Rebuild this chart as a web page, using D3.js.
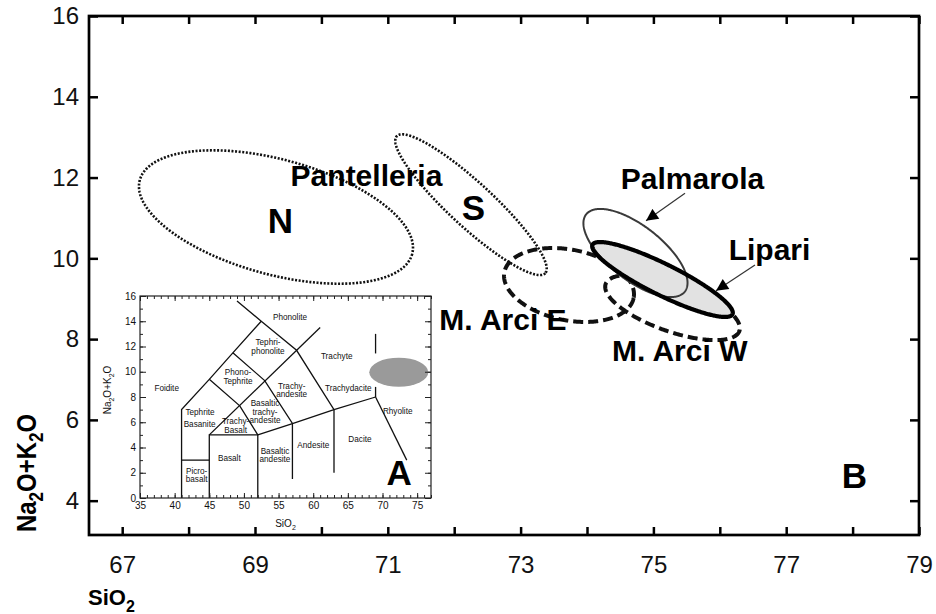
<!DOCTYPE html>
<html><head><meta charset="utf-8">
<script src="https://cdn.jsdelivr.net/npm/d3@7"></script>
<style>
body{margin:0;background:#fff}
text{font-family:"Liberation Sans",Arial,Helvetica,sans-serif}
</style>
</head><body>
<svg id="c" width="936" height="614"></svg>
<script>
// ---------- main diagram data ----------
const xTicks = [67,68,69,70,71,72,73,74,75,76,77,78,79];
const xTickLabels = [67,69,71,73,75,77,79];
const yTicks = [4,6,8,10,12,14,16];

// ellipses: centre (SiO2, Na2O+K2O) and two conjugate half-axes in data units
const fieldNames   = ["Pantelleria N","Pantelleria S","M. Arci E","M. Arci W","Lipari","Palmarola"];
const fieldCenters = [[69.316,11.023],[72.253,11.328],[73.729,9.340],[75.288,8.783],[75.137,9.476],[74.730,10.132]];
const fieldAxisU   = [[2.051,-0.916],[1.118,-1.696],[0.973,-0.322],[1.007,-0.582],[1.054,-0.861],[0.743,-0.956]];
const fieldAxisV   = [[-0.227,-1.374],[-0.225,-0.400],[-0.105,-0.857],[-0.120,-0.560],[-0.104,-0.344],[-0.250,-0.527]];
const fieldStyle   = ["dotted","dotted","dashed","dashed","bold","thin"];

const mainLabels   = ["Pantelleria","N","S","M. Arci E","M. Arci W","Palmarola","Lipari","B"];
const mainLabelPos = [[70.679,11.791],[69.381,10.627],[72.288,10.949],[72.735,8.226],[75.396,7.466],[75.589,11.709],[76.749,9.959],[78.026,4.307]];
const mainLabelBig = [false,true,true,false,false,false,false,true];

const arrowFrom = [[75.476,11.610],[76.530,9.835]];
const arrowTo   = [[74.889,10.932],[75.943,9.199]];

// ---------- inset TAS data ----------
const insetXTicks = d3.range(35,78,1);
const insetXLabels = [35,40,45,50,55,60,65,70,75];
const insetYTicks = d3.range(0,17,1);
const insetYLabels = [0,2,4,6,8,10,12,14,16];
const tasLines = [
  [[41,0],[41,7],[45,9.4],[48.4,11.5],[52.5,14]],
  [[49,15.6],[52.5,14],[57.6,11.7],[63,7],[63,2]],
  [[41,3],[45,3]],
  [[45,0],[45,5],[52,5],[52,0]],
  [[52,5],[57,5.9],[63,7],[69,8]],
  [[57,1.5],[57,5.9],[53,9.3],[48.4,11.5]],
  [[45,5],[61,13.5]],
  [[45,9.4],[49.4,7.3],[52,5]],
  [[69,8],[69,8.8]],
  [[69,8],[73.5,3]],
  [[69,11.45],[69,13]]
];
const tasNames = ["Phonolite","Tephri-\nphonolite","Trachyte","Phono-\nTephrite","Foidite","Trachy-\nandesite","Trachydacite",
  "Basaltic\ntrachy-\nandesite","Tephrite","Basanite","Trachy-\nBasalt","Rhyolite","Dacite","Andesite","Basaltic\nandesite","Basalt","Picro-\nbasalt"];
const tasNamePos = [[56.65,14.34],[53.47,11.98],[63.39,11.25],[49.14,9.61],[38.85,8.71],[56.89,8.55],[65.06,8.71],
  [53.04,6.84],[43.66,6.8],[43.6,5.85],[48.8,5.72],[72.19,6.91],[66.75,4.65],[60.01,4.2],[54.48,3.41],[47.89,3.14],[43.18,1.82]];
const studyField = {cx:72.35, cy:9.96, rx:4.26, ry:1.15};

// ---------- drawing ----------
const svg = d3.select("#c");
svg.append("rect").attr("width",936).attr("height",614).attr("fill","#fff");

const x = d3.scaleLinear().domain([66.5,79]).range([89,919]);
const y = d3.scaleLinear().domain([3.15,16]).range([535,16]);

function ellipsePath(c,u,v,sx,sy){
  const pts = d3.range(0,360,1).map(t=>{
    const r=t*Math.PI/180;
    return [sx(c[0]+Math.cos(r)*u[0]+Math.sin(r)*v[0]), sy(c[1]+Math.cos(r)*u[1]+Math.sin(r)*v[1])];
  });
  return d3.line().curve(d3.curveLinearClosed)(pts);
}

const gF = svg.append("g");
[0,1,2,3].forEach(i=>{
  const p = gF.append("path").attr("d",ellipsePath(fieldCenters[i],fieldAxisU[i],fieldAxisV[i],x,y)).attr("fill","none").attr("stroke","#111");
  if(fieldStyle[i]==="dotted") p.attr("stroke-width",2.6).attr("stroke-dasharray","2,1.6");
  else p.attr("stroke-width",4).attr("stroke-dasharray","10,5");
});
// Lipari fill, Palmarola outline, Lipari outline
gF.append("path").attr("d",ellipsePath(fieldCenters[4],fieldAxisU[4],fieldAxisV[4],x,y)).attr("fill","#e2e2e2").attr("stroke","none");
gF.append("path").attr("d",ellipsePath(fieldCenters[5],fieldAxisU[5],fieldAxisV[5],x,y)).attr("fill","none").attr("stroke","#3a3a3a").attr("stroke-width",2);
gF.append("path").attr("d",ellipsePath(fieldCenters[4],fieldAxisU[4],fieldAxisV[4],x,y)).attr("fill","none").attr("stroke","#000").attr("stroke-width",4.2);

// arrows
svg.append("defs").append("marker").attr("id","ah").attr("viewBox","0 0 10 10").attr("refX",10).attr("refY",5)
  .attr("markerWidth",14).attr("markerHeight",12).attr("markerUnits","userSpaceOnUse").attr("orient","auto")
  .append("path").attr("d","M0,0L10,5L0,10Z").attr("fill","#000");
arrowFrom.forEach((f,i)=>{
  svg.append("line").attr("x1",x(f[0])).attr("y1",y(f[1])).attr("x2",x(arrowTo[i][0])).attr("y2",y(arrowTo[i][1]))
    .attr("stroke","#333").attr("stroke-width",1.2).attr("marker-end","url(#ah)");
});

// labels
mainLabels.forEach((t,i)=>{
  svg.append("text").attr("x",x(mainLabelPos[i][0])).attr("y",y(mainLabelPos[i][1]))
    .attr("text-anchor","middle").attr("font-weight","bold").attr("font-size",mainLabelBig[i]?35:30).attr("fill","#000").text(t);
});

// ---------- inset ----------
const ix = d3.scaleLinear().domain([35,77]).range([140,431]);
const iy = d3.scaleLinear().domain([0,16]).range([498,296]);
const gI = svg.append("g");
gI.append("rect").attr("x",ix(35)).attr("y",iy(16)).attr("width",ix(77)-ix(35)).attr("height",iy(0)-iy(16)).attr("fill","#fff");
gI.append("ellipse").attr("cx",ix(studyField.cx)).attr("cy",iy(studyField.cy))
  .attr("rx",ix(studyField.cx+studyField.rx)-ix(studyField.cx)).attr("ry",iy(studyField.cy)-iy(studyField.cy+studyField.ry)).attr("fill","#9a9a9a");
tasLines.forEach(l=>{
  gI.append("path").attr("d",d3.line().x(d=>ix(d[0])).y(d=>iy(d[1]))(l)).attr("fill","none").attr("stroke","#111").attr("stroke-width",1.3);
});
tasNames.forEach((t,i)=>{
  const lines=t.split("\n"); const lh=8.6;
  const tx=gI.append("text").attr("text-anchor","middle").attr("font-size",8.2).attr("fill","#111");
  lines.forEach((s,j)=>{
    tx.append("tspan").attr("x",ix(tasNamePos[i][0])).attr("y",iy(tasNamePos[i][1])+(j-(lines.length-1)/2)*lh+3).text(s);
  });
});
// inset axes
function styleAxis(g){ g.select(".domain").remove(); g.selectAll("line").attr("stroke","#222"); g.selectAll("text").attr("font-size",10).attr("fill","#111").attr("font-family","'Liberation Sans',Arial,sans-serif"); }
gI.append("g").attr("transform",`translate(0,${iy(0)})`).call(d3.axisBottom(ix).tickValues(insetXTicks).tickSize(-3).tickFormat("")).call(styleAxis);
gI.append("g").attr("transform",`translate(0,${iy(0)})`).call(d3.axisBottom(ix).tickValues(insetXLabels).tickSize(-5).tickPadding(4)).call(styleAxis);
gI.append("g").attr("transform",`translate(0,${iy(16)})`).call(d3.axisTop(ix).tickValues(insetXTicks).tickSize(-3).tickFormat("")).call(styleAxis);
gI.append("g").attr("transform",`translate(0,${iy(16)})`).call(d3.axisTop(ix).tickValues(insetXLabels).tickSize(-5).tickFormat("")).call(styleAxis);
gI.append("g").attr("transform",`translate(${ix(35)},0)`).call(d3.axisLeft(iy).tickValues(insetYTicks).tickSize(-3).tickFormat("")).call(styleAxis);
gI.append("g").attr("transform",`translate(${ix(35)},0)`).call(d3.axisLeft(iy).tickValues(insetYLabels).tickSize(-6).tickPadding(4)).call(styleAxis);
gI.append("g").attr("transform",`translate(${ix(77)},0)`).call(d3.axisRight(iy).tickValues(insetYTicks).tickSize(-3).tickFormat("")).call(styleAxis);
gI.append("g").attr("transform",`translate(${ix(77)},0)`).call(d3.axisRight(iy).tickValues(insetYLabels).tickSize(-6).tickFormat("")).call(styleAxis);
gI.append("rect").attr("x",ix(35)).attr("y",iy(16)).attr("width",ix(77)-ix(35)).attr("height",iy(0)-iy(16)).attr("fill","none").attr("stroke","#222").attr("stroke-width",1.2);
// inset axis titles
const isx = gI.append("text").attr("x",(ix(35)+ix(77))/2).attr("y",527).attr("text-anchor","middle").attr("font-size",10).attr("fill","#111");
isx.append("tspan").text("SiO"); isx.append("tspan").attr("dy",3).attr("font-size",7).text("2");
const isy = gI.append("text").attr("transform",`translate(111,390) rotate(-90)`).attr("text-anchor","middle").attr("font-size",10).attr("fill","#111");
isy.append("tspan").text("Na"); isy.append("tspan").attr("dy",3).attr("font-size",7).text("2");
isy.append("tspan").attr("dy",-3).text("O+K"); isy.append("tspan").attr("dy",3).attr("font-size",7).text("2");
isy.append("tspan").attr("dy",-3).text("O");
gI.append("text").attr("x",ix(72.4)).attr("y",iy(1.0)).attr("text-anchor","middle").attr("font-size",35).attr("font-weight","bold").attr("fill","#000").text("A");

// ---------- main axes ----------
function styleMain(g){ g.select(".domain").remove(); g.selectAll("line").attr("stroke","#000").attr("stroke-width",2.5); g.selectAll("text").attr("font-size",24).attr("fill","#111").attr("font-family","'Liberation Sans',Arial,sans-serif"); }
svg.append("g").attr("transform","translate(0,535)").call(d3.axisBottom(x).tickValues(xTicks).tickSize(-8).tickPadding(21).tickFormat(d=>xTickLabels.includes(d)?d:"")).call(styleMain);
svg.append("g").attr("transform","translate(0,16)").call(d3.axisTop(x).tickValues(xTicks).tickSize(-8).tickFormat("")).call(styleMain);
svg.append("g").attr("transform","translate(89,0)").call(d3.axisLeft(y).tickValues(yTicks).tickSize(-9).tickPadding(10)).call(styleMain);
svg.append("g").attr("transform","translate(919,0)").call(d3.axisRight(y).tickValues(yTicks).tickSize(-9).tickFormat("")).call(styleMain);
svg.append("rect").attr("x",89).attr("y",16).attr("width",830).attr("height",519).attr("fill","none").attr("stroke","#000").attr("stroke-width",2.7);

// axis titles
const tx = svg.append("text").attr("x",88).attr("y",605).attr("font-size",22).attr("font-weight","bold").attr("fill","#000");
tx.append("tspan").text("SiO"); tx.append("tspan").attr("dy",7).attr("font-size",16).text("2");
const ty = svg.append("text").attr("transform","translate(36,473) rotate(-90)").attr("text-anchor","middle").attr("font-size",28).attr("font-weight","bold").attr("fill","#000")
  .attr("textLength",118).attr("lengthAdjust","spacingAndGlyphs");
ty.append("tspan").text("Na"); ty.append("tspan").attr("dy",7).attr("font-size",20).text("2");
ty.append("tspan").attr("dy",-7).text("O+K"); ty.append("tspan").attr("dy",7).attr("font-size",20).text("2");
ty.append("tspan").attr("dy",-7).text("O");
</script>
</body></html>
